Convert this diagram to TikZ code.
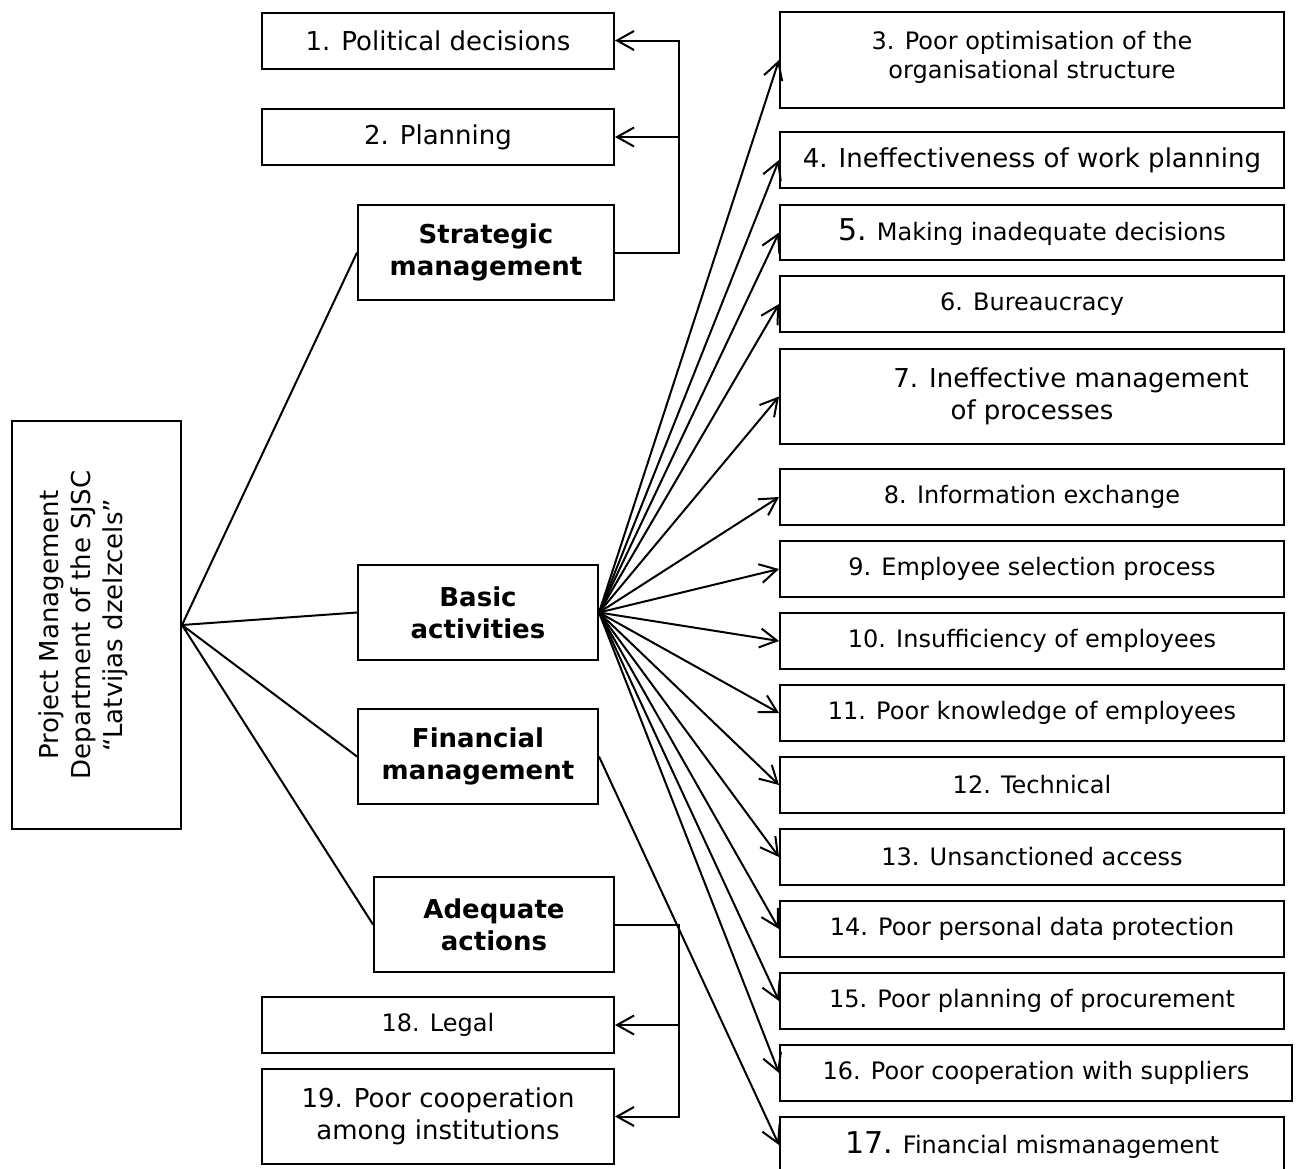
\documentclass[tikz,border=0pt]{standalone}
\usepackage{fontspec}
\setmainfont{DejaVu Sans}
\usetikzlibrary{arrows.meta,positioning}

\tikzset{
	box/.style={draw, line width=1pt, inner sep=0pt, align=center, font=\fontsize{13}{16}\selectfont},
	smallbox/.style={box, font=\fontsize{12}{14.5}\selectfont},
	head/.style={box, font=\fontsize{13}{16}\selectfont\bfseries, minimum width=120pt, minimum height=47.5pt},
	left/.style={box, minimum width=176pt, minimum height=28pt},
	cause/.style={smallbox, minimum width=252pt, minimum height=28pt},
	link/.style={line width=1pt},
	barb/.style={line width=1pt, -{Straight Barb[length=8.5pt,width=9.5pt]}},
}

\begin{document}
\begin{tikzpicture}[x=0.5pt,y=-0.5pt]

\useasboundingbox (0,0) rectangle (1296,1168);

% root
\node[box, minimum width=84.5pt, minimum height=204pt] (dept) at (96.5,625)
	{\rotatebox{90}{\begin{tabular}{@{}c@{}}Project Management\\Department of the SJSC\\“Latvijas dzelzcels”\end{tabular}}\hspace*{12pt}};

% middle column
\node[head, minimum width=128pt] (strat) at (486,252.5) {Strategic\\management};
\node[head] (basic) at (478,612.5) {Basic\\activities};
\node[head] (fin) at (478,756.5) {Financial\\management};
\node[head] (adeq) at (494,924.5) {Adequate\\actions};
%
\node[left] (pol) at (438,40.5) {1. Political decisions};
\node[left] (plan) at (438,137) {2. Planning};
\node[left, font=\fontsize{12}{14.5}\selectfont] (legal) at (438,1025) {18. Legal};
\node[left, minimum height=47.5pt] (coop) at (438,1116.5) {19. Poor cooperation\\among institutions};

% right column
\node[cause, minimum height=48pt] (p3) at (1032,60) {3. Poor optimisation of the\\organisational structure\rule[-5pt]{0pt}{0pt}};
\node[cause, font=\fontsize{13}{16}\selectfont] (p4) at (1032,160) {4. Ineffectiveness of work planning};
\node[cause, minimum height=27.5pt] (p5) at (1032,232.5) {{\fontsize{15}{16}\selectfont 5.} Making inadequate decisions};
\node[cause] (p6) at (1032,304) {6. Bureaucracy};
\node[cause, minimum height=47.5pt, font=\fontsize{13}{16}\selectfont] (p7) at (1032,396.5)
	{\hspace*{39pt}7. Ineffective management\\of processes};
\node[cause] (p8) at (1032,497) {8. Information exchange};
\node[cause, below=7pt of p8] (p9) {9. Employee selection process};
\node[cause, below=7pt of p9] (p10) {10. Insufficiency of employees};
\node[cause, below=7pt of p10] (p11) {11. Poor knowledge of employees};
\node[cause, below=7pt of p11] (p12) {12. Technical};
\node[cause, below=7pt of p12] (p13) {13. Unsanctioned access};
\node[cause, below=7pt of p13] (p14) {14. Poor personal data protection};
\node[cause, below=7pt of p14] (p15) {15. Poor planning of procurement};
\node[cause, minimum width=256pt, below=7pt of p15.south west, anchor=north west] (p16) {16. Poor cooperation with suppliers};
\node[cause, below=7pt of p16.south west, anchor=north west] (p17) {{\fontsize{15}{16}\selectfont 17.} Financial mismanagement};

% brackets
\coordinate (sj) at ([xshift=32pt]strat.east);
\coordinate (aj) at ([xshift=32pt]adeq.east);

\draw[link]
	(dept.east) -- (strat.west)
	(dept.east) -- (basic.west)
	(dept.east) -- (fin.west)
	(dept.east) -- (adeq.west);

\draw[barb] (strat.east) -- (sj) |- (pol.east);
\draw[barb] (sj |- plan.east) -- (plan.east);
\draw[barb] (adeq.east) -- (aj) |- (coop.east);
\draw[barb] (aj |- legal.east) -- (legal.east);

\path
	(basic.east) edge[barb] (p3.west) edge[barb] (p4.west) edge[barb] (p5.west) edge[barb] (p6.west)
	edge[barb] (p7.west) edge[barb] (p8.west) edge[barb] (p9.west) edge[barb] (p10.west)
	edge[barb] (p11.west) edge[barb] (p12.west) edge[barb] (p13.west) edge[barb] (p14.west)
	edge[barb] (p15.west) edge[barb] (p16.west);
\draw[barb] (fin.east) -- (p17.west);

\end{tikzpicture}
\end{document}
